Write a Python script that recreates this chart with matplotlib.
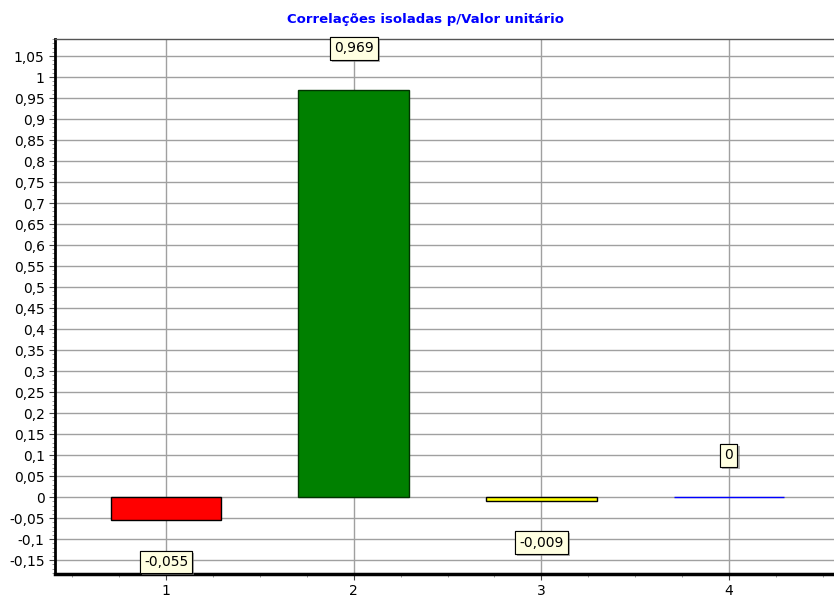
import numpy as np
import matplotlib.pyplot as plt
import matplotlib.patheffects as pe
from matplotlib.ticker import FuncFormatter, MultipleLocator

plt.rcParams['font.family'] = ['DejaVu Sans']

# %% Dados
categorias = [1, 2, 3, 4]
valores = [-0.055, 0.969, -0.009, 0.0]
rotulos = ['-0,055', '0,969', '-0,009', '0']
cores = ['#ff0000', '#008000', '#ffff00', '#0000ff']
bordas = ['black', '#003300', 'black', '#0000ff']

def virgula(v, pos):
    s = f'{v:.2f}'.rstrip('0').rstrip('.')
    if s in ('-0', '0'):
        s = '0'
    return s.replace('.', ',')

# %% Figura
fig = plt.figure(figsize=(8.34, 6.06), dpi=100)
ax = fig.add_axes([0.066, 0.0528, 0.934, 0.8828])

ax.bar(categorias, valores, width=0.59, color=cores, edgecolor=bordas,
       linewidth=1, zorder=3)

for x, v, r in zip(categorias, valores, rotulos):
    desloc = 30 if v >= 0 else -30
    an = ax.annotate(r, (x, v), xytext=(0, desloc), textcoords='offset points',
                     ha='center', va='center', fontsize=10, zorder=5,
                     bbox=dict(boxstyle='square,pad=0.3', fc='#ffffe1',
                               ec='black', lw=0.8))
    an.get_bbox_patch().set_path_effects(
        [pe.withSimplePatchShadow(offset=(1.5, -1.5), shadow_rgbFace='gray',
                                  alpha=0.6), pe.Normal()])

ax.set_xlim(0.408, 4.56)
ax.set_ylim(-0.183, 1.0905)
ax.set_xticks(categorias)
ax.xaxis.set_minor_locator(MultipleLocator(0.25))
ax.set_yticks(np.arange(-0.15, 1.051, 0.05))
ax.yaxis.set_minor_locator(MultipleLocator(0.01))
ax.yaxis.set_major_formatter(FuncFormatter(virgula))
ax.tick_params(axis='both', which='major', labelsize=10, length=4, color='#444444')
ax.tick_params(axis='both', which='minor', length=2, color='#888888')

ax.grid(True, which='major', color='#a0a0a0', linewidth=1, zorder=0)
ax.set_axisbelow(True)

ax.spines['left'].set_linewidth(2)
ax.spines['bottom'].set_linewidth(2.5)
ax.spines['top'].set_color('#555555')
ax.spines['top'].set_linewidth(1)
ax.spines['right'].set_visible(False)

fig.text(0.51, 0.968, 'Correlações isoladas p/Valor unitário', color='#0000ff',
         fontsize=9.5, fontweight='bold', ha='center', va='center')

fig.savefig('out.png', dpi=100)
